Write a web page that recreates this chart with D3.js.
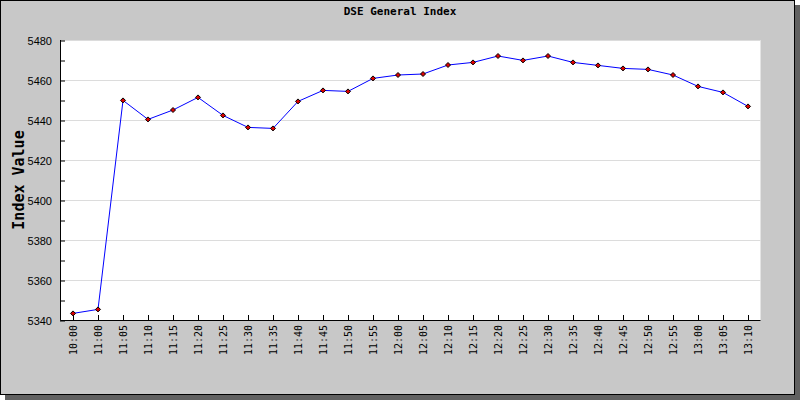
<!DOCTYPE html>
<html><head><meta charset="utf-8">
<script src="https://cdn.jsdelivr.net/npm/d3@7"></script>
<style>body{margin:0;background:#fff}svg{display:block}</style>
</head><body><svg id="c" width="800" height="400"></svg>
<script>
const title = "DSE General Index";
const yTitle = "Index Value";
const times = ["10:00","11:00","11:05","11:10","11:15","11:20","11:25","11:30","11:35","11:40","11:45","11:50","11:55","12:00","12:05","12:10","12:15","12:20","12:25","12:30","12:35","12:40","12:45","12:50","12:55","13:00","13:05","13:10"];
const values = [5343.3,5345.3,5449.8,5440.3,5445.0,5451.3,5442.3,5436.3,5435.8,5449.3,5454.8,5454.3,5460.8,5462.5,5463.0,5467.5,5468.8,5472.0,5469.8,5472.0,5468.8,5467.3,5465.8,5465.3,5462.5,5456.8,5453.8,5446.8];
const yDomain = [5340, 5480];
const yMajorTicks = [5340,5360,5380,5400,5420,5440,5460,5480];

const svg = d3.select("#c");
// shadow + frame
svg.append("rect").attr("x",5).attr("y",5).attr("width",795).attr("height",395).attr("fill","#606060");
svg.append("rect").attr("x",0.5).attr("y",0.5).attr("width",794).attr("height",394).attr("fill","#c8c8c8").attr("stroke","#000");

const L=60.5, R=760.5, T=40, B=320;
const x = d3.scaleBand().domain(times).range([L,R]);
const y = d3.scaleLinear().domain(yDomain).range([B,T]);
const cx = d => x(d) + x.bandwidth()/2;

svg.append("rect").attr("x",L).attr("y",T).attr("width",R-L).attr("height",B-T).attr("fill","#fff");

// gridlines
svg.append("g").selectAll("line").data(yMajorTicks.slice(1)).join("line")
  .attr("x1",L).attr("x2",R).attr("y1",d=>Math.round(y(d))+0.5).attr("y2",d=>Math.round(y(d))+0.5)
  .attr("stroke","#dcdcdc").attr("stroke-width",1);

// y axis
const yAxis = d3.axisLeft(y).tickValues(d3.range(yDomain[0], yDomain[1]+1, 10)).tickSize(-5).tickPadding(8)
  .tickFormat(d => d % 20 === 0 ? d : "");
const gy = svg.append("g").attr("transform",`translate(${L-0.5},0.5)`).call(yAxis);
gy.select(".domain").remove();
gy.selectAll(".tick line").attr("stroke","#000");
gy.selectAll("text").attr("font-family","Liberation Sans, Arial, sans-serif").attr("font-size","11px").attr("fill","#000").attr("dx",0).attr("x",-8);
svg.append("line").attr("x1",L).attr("x2",L).attr("y1",T).attr("y2",B+0.5).attr("stroke","#000");

// x axis
const xAxis = d3.axisBottom(x).tickSize(-5).tickPadding(6);
const gx = svg.append("g").attr("transform",`translate(0,${B})`).call(xAxis);
gx.select(".domain").remove();
gx.selectAll(".tick line").attr("stroke","#000").attr("transform","translate(0.5,0)");
gx.selectAll("text").attr("font-family","DejaVu Sans Mono, monospace").attr("font-size","10px").attr("fill","#000")
  .attr("transform","rotate(-90)").attr("text-anchor","end").attr("x",-5).attr("y",0).attr("dy","0.35em");
svg.append("line").attr("x1",L).attr("x2",R).attr("y1",B+0.5).attr("y2",B+0.5).attr("stroke","#000");

// line
const pts = times.map((t,i)=>({t, v: values[i]}));
svg.append("path").datum(pts).attr("fill","none").attr("stroke","#0000ff").attr("stroke-width",1)
  .attr("d", d3.line().x(d=>cx(d.t)).y(d=>y(d.v)));

// markers
const mk = svg.append("g").selectAll("g").data(pts).join("g")
  .attr("transform", d=>`translate(${cx(d.t)},${y(d.v)})`);
mk.append("path").attr("d","M0,-2.5L2.5,0L0,2.5L-2.5,0Z").attr("fill","#dd0000").attr("stroke","#000").attr("stroke-width",1);

// titles
svg.append("text").attr("x",400).attr("y",15).attr("text-anchor","middle")
  .attr("font-family","DejaVu Sans Mono, monospace").attr("font-weight","bold").attr("font-size","11px").text(title);
svg.append("text").attr("transform",`translate(24,${(T+B)/2}) rotate(-90)`).attr("text-anchor","middle")
  .attr("font-family","DejaVu Sans Mono, monospace").attr("font-weight","bold").attr("font-size","15px").text(yTitle);
</script></body></html>
